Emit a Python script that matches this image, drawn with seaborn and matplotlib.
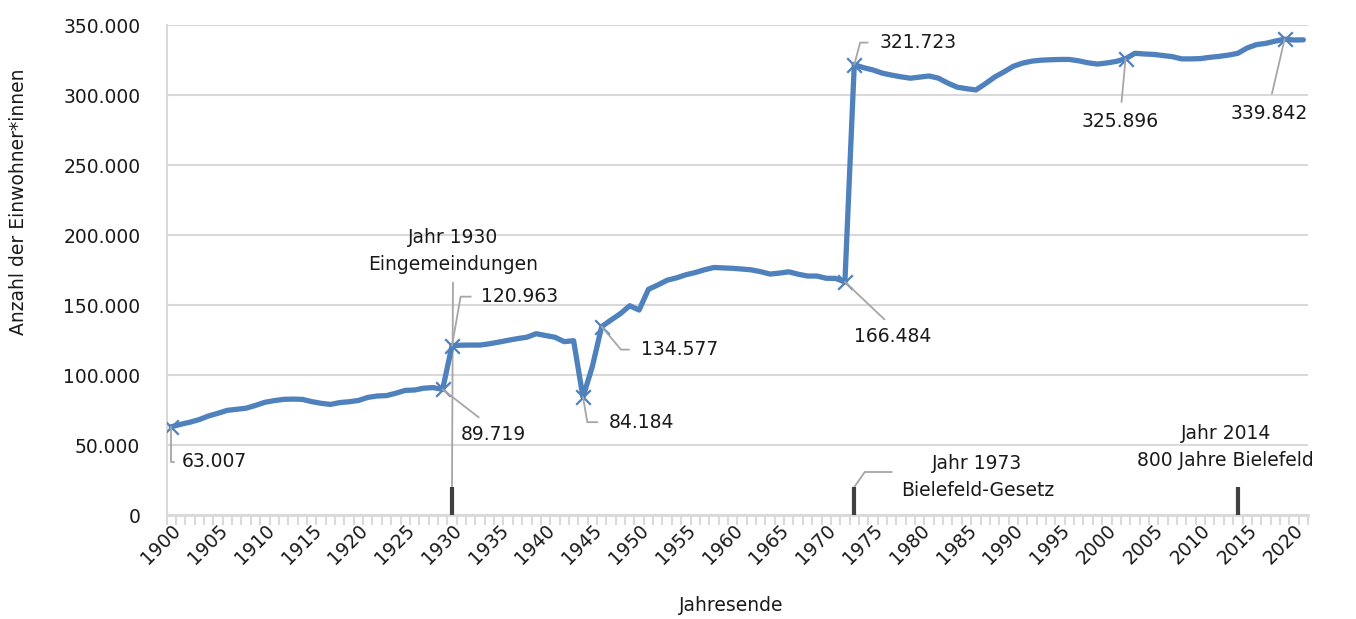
import matplotlib
matplotlib.use("Agg")
import matplotlib.pyplot as plt
from matplotlib.ticker import FuncFormatter, FixedLocator
import seaborn as sns
import pandas as pd

# ---------------- data ----------------
years = list(range(1900, 2022))
population = [
    63007, 64800, 66300, 68200, 70800, 72700, 74800, 75500, 76300, 78300,   # 1900-1909
    80500, 81700, 82600, 82800, 82600, 81000, 79800, 79000, 80300, 80900,   # 1910-1919
    81800, 84000, 85000, 85300, 87000, 89000, 89300, 90600, 91000, 89719,   # 1920-1929
    120963, 121300, 121400, 121400, 122300, 123500, 124800, 126000, 127000, 129500,  # 1930-1939
    128200, 127000, 123800, 124500, 84184, 106000, 134577, 139300, 143800, 149500,   # 1940-1949
    146400, 161200, 164300, 167700, 169400, 171600, 173200, 175200, 176800, 176500,  # 1950-1959
    176200, 175700, 175100, 173800, 172100, 172800, 173700, 172000, 170700, 170700,  # 1960-1969
    169100, 169000, 166484, 321723, 319500, 317900, 315600, 314200, 313000, 312000,  # 1970-1979
    312800, 313600, 312000, 308500, 305600, 304500, 303600, 308000, 312800, 316500,  # 1980-1989
    320500, 322800, 324200, 324900, 325200, 325400, 325400, 324400, 323000, 322100,  # 1990-1999
    322900, 324000, 325896, 329800, 329300, 329000, 328200, 327400, 325800, 325800,  # 2000-2009
    326000, 326900, 327600, 328500, 329800, 333600, 336000, 336900, 338500, 339842,  # 2010-2019
    339300, 339400,                                                                  # 2020-2021
]
assert len(years) == len(population)

highlight_years = [1900, 1929, 1930, 1944, 1946, 1972, 1973, 2002, 2019]

event_years = [1930, 1973, 2014]
event_texts = ["Jahr 1930\nEingemeindungen", "Jahr 1973\nBielefeld-Gesetz", "Jahr 2014\n800 Jahre Bielefeld"]
event_bar_height = 20000

y_ticks = [0, 50000, 100000, 150000, 200000, 250000, 300000, 350000]
x_label_years = list(range(1900, 2021, 5))

x_title = "Jahresende"
y_title = "Anzahl der Einwohner*innen"

# ---------------- style ----------------
sns.set_theme(style="white")
plt.rcParams["font.family"] = ["DejaVu Sans"]
FS = 13.5
TXT = "#1a1a1a"
BLUE = "#4F81BD"
GRID = "#D9D9D9"
LEAD = "#A6A6A6"
BAR = "#404040"

def de(v):
    return f"{int(v):,}".replace(",", ".")

df = pd.DataFrame({"Jahr": years, "Einwohner": population})
hl = df[df["Jahr"].isin(highlight_years)]

fig = plt.figure(figsize=(13.56, 6.19), dpi=100)
ax = fig.add_axes([0.1229, 0.168, 0.8417, 0.7916])

sns.lineplot(data=df, x="Jahr", y="Einwohner", ax=ax, color=BLUE, linewidth=3.8,
             solid_capstyle="round", solid_joinstyle="round", zorder=3)
sns.scatterplot(data=hl, x="Jahr", y="Einwohner", ax=ax, marker="x", s=110,
                color=BLUE, linewidth=1.6, zorder=4)

# event bars
ax.vlines(event_years, 0, event_bar_height, color=BAR, linewidth=3, zorder=5)

# axes limits / ticks
ax.set_xlim(years[0] - 0.5, years[-1] + 0.5)
ax.set_ylim(0, y_ticks[-1])
ax.set_yticks(y_ticks)
ax.yaxis.set_major_formatter(FuncFormatter(lambda v, p: de(v)))
ax.set_xticks(x_label_years)
ax.set_xticklabels([str(y) for y in x_label_years], rotation=45, ha="right",
                   va="top", rotation_mode="anchor")
ax.xaxis.set_minor_locator(FixedLocator([y - 0.5 for y in years] + [years[-1] + 0.5]))
ax.tick_params(axis="x", which="major", length=0, pad=4, labelsize=FS, labelcolor=TXT)
ax.tick_params(axis="x", which="minor", length=7, width=1.5, color=GRID, bottom=True)
ax.tick_params(axis="y", length=0, pad=19, labelsize=FS, labelcolor=TXT)

ax.grid(axis="y", color=GRID, linewidth=1.5, zorder=0)
ax.grid(axis="x", visible=False)
ax.set_axisbelow(True)
for s in ["top", "right"]:
    ax.spines[s].set_visible(False)
ax.spines["left"].set_color(GRID)
ax.spines["left"].set_linewidth(1.5)
ax.spines["bottom"].set_color(GRID)
ax.spines["bottom"].set_linewidth(2)

ax.set_xlabel(x_title, fontsize=FS, color=TXT)
ax.set_ylabel(y_title, fontsize=FS, color=TXT)
ax.xaxis.set_label_coords(0.495, -0.166)
ax.yaxis.set_label_coords(-0.1216, 0.64)

# value labels with leader lines: (dx, dy) offset in pixels, ha, relpos, connection, shrinkA
value_layout = {
    1900: ((10, -35), "left", (0, 0.5), "angle,angleA=0,angleB=90,rad=0", 3),
    1929: ((51, -45), "center", (0.42, 1.0), "arc3", 5),
    1930: ((29, 49), "left", (0, 0.5), "angle,angleA=0,angleB=80,rad=0", 5),
    1944: ((26, -25), "left", (0, 0.5), "angle,angleA=0,angleB=-80,rad=0", 6),
    1946: ((39, -23), "left", (0, 0.5), "angle,angleA=0,angleB=-50,rad=0", 6),
    1972: ((48, -55), "center", (0.5, 1.0), "arc3", 5),
    1973: ((25, 22), "left", (0, 0.5), "angle,angleA=0,angleB=75,rad=0", 6),
    2002: ((-5, -63), "center", (0.5, 1.0), "arc3", 5),
    2019: ((-15, -74), "center", (0.5, 1.0), "arc3", 5),
}
for _, row in hl.iterrows():
    yr = int(row["Jahr"])
    val = row["Einwohner"]
    (dx, dy), ha, rel, conn, shr = value_layout[yr]
    ax.annotate(de(val), xy=(yr, val), xytext=(dx, dy), textcoords="offset pixels",
                ha=ha, va="center", fontsize=FS, color=TXT, zorder=6,
                arrowprops=dict(arrowstyle="-", color=LEAD, lw=1.3, relpos=rel,
                                connectionstyle=conn, shrinkA=shr, shrinkB=0))

# event labels
event_layout = [
    ((1, 236), (0.5, 0.0), "arc3", 4),
    ((123, 10), (0.0, 0.61), "angle,angleA=0,angleB=55,rad=0", 4),
    ((-12, 40), None, None, 0),
]
for yr, txt, ((dx, dy), rel, conn, shr) in zip(event_years, event_texts, event_layout):
    kw = {}
    if rel is not None:
        kw["arrowprops"] = dict(arrowstyle="-", color=LEAD, lw=1.3, relpos=rel,
                                connectionstyle=conn, shrinkA=shr, shrinkB=0)
    ax.annotate(txt, xy=(yr, event_bar_height), xytext=(dx, dy), textcoords="offset pixels",
                ha="center", va="center", multialignment="center", linespacing=1.5,
                fontsize=FS, color=TXT, zorder=2, **kw)

fig.savefig("out.png", dpi=100)
